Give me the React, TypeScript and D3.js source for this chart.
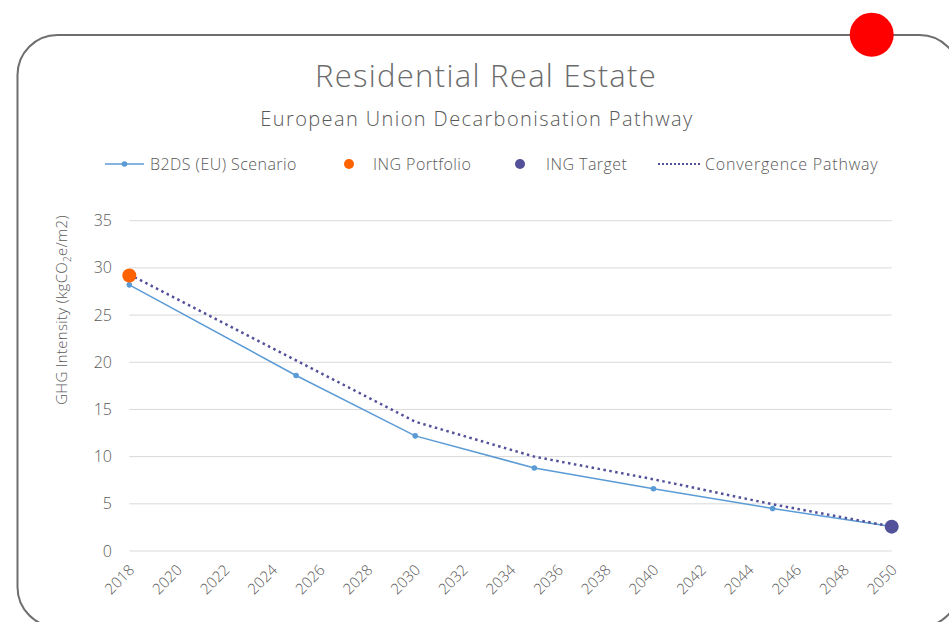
import React from 'react';
import * as d3 from 'd3';

// values
const scenarioYears = [2018, 2025, 2030, 2035, 2040, 2045, 2050];
const scenarioValues = [28.2, 18.6, 12.2, 8.8, 6.6, 4.5, 2.6];
const convergenceYears = [2018, 2025, 2030, 2035, 2040, 2045, 2050];
const convergenceValues = [29.3, 20.2, 13.7, 10.0, 7.6, 4.95, 2.6];
const portfolio = { year: 2018, value: 29.2 };
const target = { year: 2050, value: 2.58 };
const yTicks = [0, 5, 10, 15, 20, 25, 30, 35];
const xTicks = d3.range(2018, 2051, 2);

const W = 949;
const H = 622;
const FONT = '"Open Sans", Lato, sans-serif';
const BLUE = '#5b9bd5';
const ORANGE = '#ff6200';
const INDIGO = '#525199';
const TEXT = '#595959';

export default function App() {
  const x = d3.scaleLinear([2018, 2050], [129.3, 891.7]);
  const y = d3.scaleLinear([0, 35], [551, 220.7]);

  const line = d3.line<[number, number]>().x(d => x(d[0])).y(d => y(d[1]));
  const scenario = scenarioYears.map((yr, i) => [yr, scenarioValues[i]] as [number, number]);
  const convergence = convergenceYears.map((yr, i) => [yr, convergenceValues[i]] as [number, number]);

  return (
    <svg width={W} height={H} style={{ position: 'absolute', left: 0, top: 0 }} fontFamily={FONT}>
      <rect width={W} height={H} fill="#fff" />
      {/* frame */}
      <rect x={17.5} y={35} width={942} height={592} rx={40} fill="none" stroke="#6e6e6e" strokeWidth={2} />
      <circle cx={871.7} cy={34.7} r={22} fill="#ff0000" />

      <text x={486} y={87} textAnchor="middle" fontSize={31} fontWeight={300} letterSpacing={1.3} fill="#6b6b6b">
        Residential Real Estate
      </text>
      <text x={477} y={126} textAnchor="middle" fontSize={20} fontWeight={300} letterSpacing={1.4} fill={TEXT}>
        European Union Decarbonisation Pathway
      </text>

      {/* legend */}
      <g fontSize={16} fill={TEXT} fontWeight={300} letterSpacing={0.45}>
        <line x1={105} x2={144} y1={164} y2={164} stroke={BLUE} strokeWidth={1.5} />
        <circle cx={124.5} cy={164} r={2.8} fill={BLUE} />
        <text x={150} y={170}>B2DS (EU) Scenario</text>
        <circle cx={349} cy={164} r={5} fill={ORANGE} />
        <text x={373} y={170}>ING Portfolio</text>
        <circle cx={520} cy={164} r={5} fill={INDIGO} />
        <text x={546} y={170}>ING Target</text>
        <line x1={658} x2={700} y1={164} y2={164} stroke={INDIGO} strokeWidth={2} strokeDasharray="2 2" />
        <text x={705} y={170} letterSpacing={0.8}>Convergence Pathway</text>
      </g>

      {/* grid + y axis */}
      <g>
        {yTicks.map(t => (
          <g key={t}>
            <line x1={x(2018)} x2={x(2050)} y1={y(t)} y2={y(t)} stroke="#d9d9d9" strokeWidth={1} />
            <text x={112} y={y(t)} dy="0.35em" textAnchor="end" fontSize={16} fontWeight={300} fill={TEXT}>{t}</text>
          </g>
        ))}
      </g>
      <text transform={`translate(67,310) rotate(-90)`} textAnchor="middle" fontSize={15} fontWeight={300} letterSpacing={0.3} fill={TEXT}>
        GHG Intensity (kgCO<tspan fontSize={10} dy={4}>2</tspan><tspan dy={-4}>e/m2)</tspan>
      </text>

      {/* x axis labels */}
      {xTicks.map(t => (
        <text key={t} transform={`translate(${x(t) + 6},${571}) rotate(-45)`} textAnchor="end" fontSize={15} fontWeight={300} fill={TEXT}>
          {t}
        </text>
      ))}

      {/* series */}
      <path d={line(scenario) ?? ''} fill="none" stroke={BLUE} strokeWidth={1.5} />
      {scenario.slice(0, -1).map((d, i) => (
        <circle key={i} cx={x(d[0])} cy={y(d[1])} r={2.8} fill={BLUE} />
      ))}
      <path d={line(convergence) ?? ''} fill="none" stroke={INDIGO} strokeWidth={2.5} strokeDasharray="2.5 3.5" />
      <circle cx={x(portfolio.year)} cy={y(portfolio.value)} r={7} fill={ORANGE} />
      <circle cx={x(target.year)} cy={y(target.value)} r={7} fill={INDIGO} />
    </svg>
  );
}
